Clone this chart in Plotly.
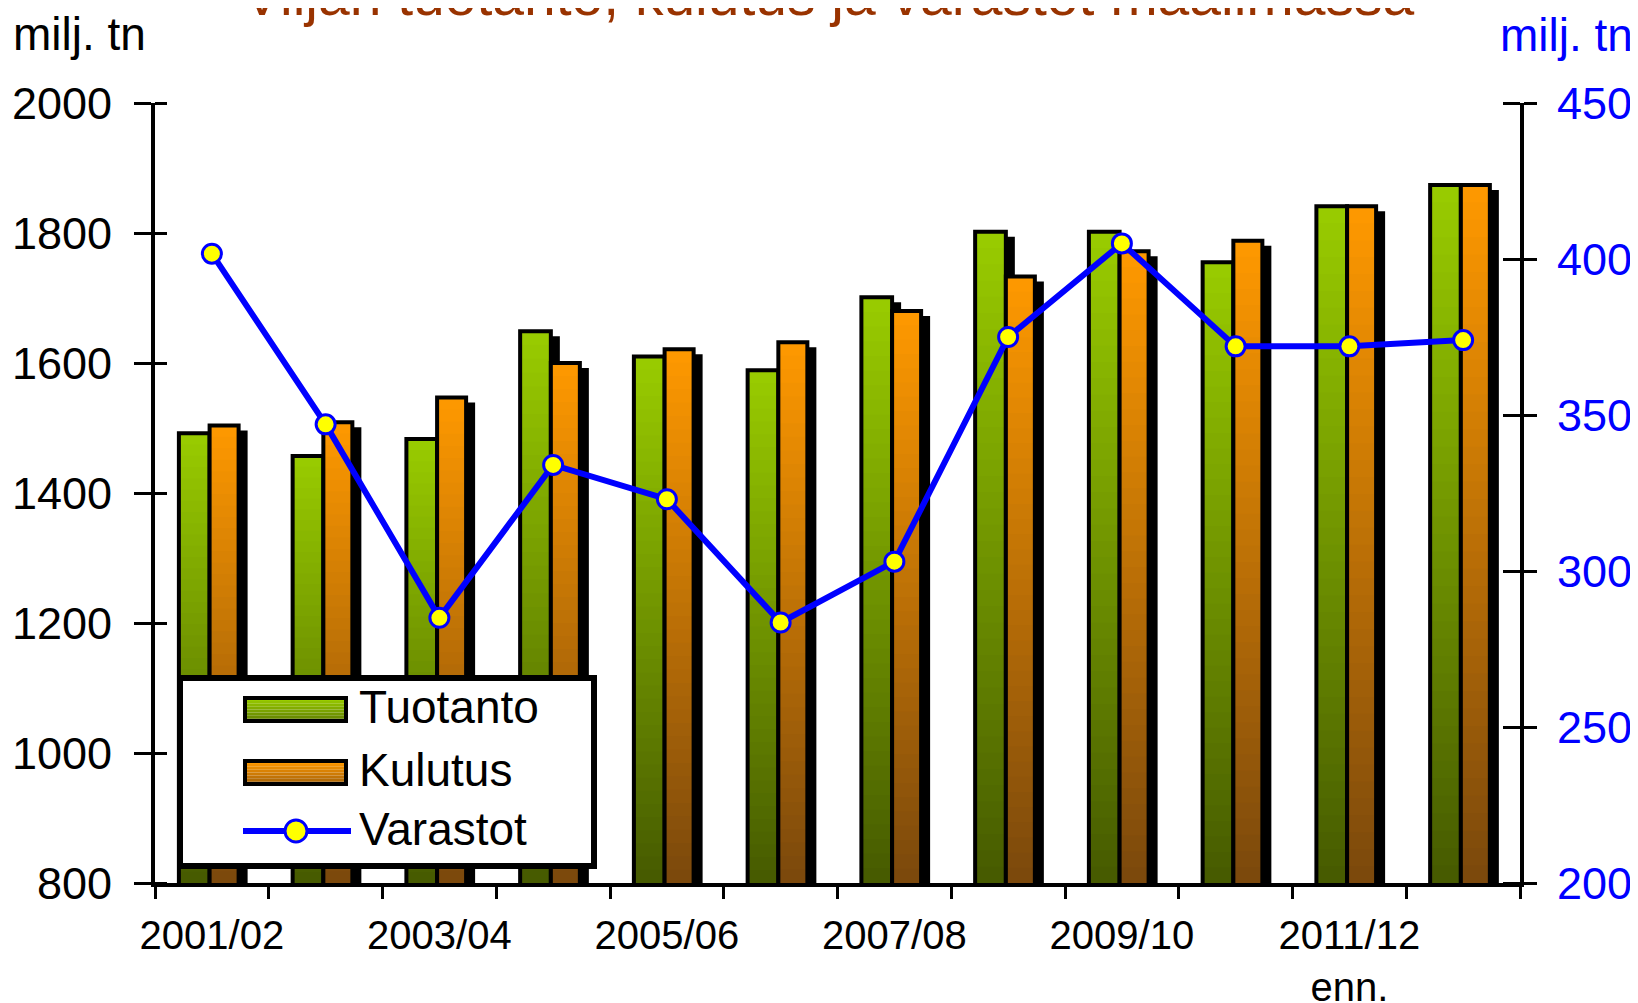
import plotly.graph_objects as go

# ---------------- data ----------------
CATEGORIES = ["2001/02", "2002/03", "2003/04", "2004/05", "2005/06", "2006/07",
              "2007/08", "2008/09", "2009/10", "2010/11", "2011/12", "2012/13"]
TICK_LABELS = ["2001/02", "2003/04", "2005/06", "2007/08", "2009/10", "2011/12<br>enn."]
TUOTANTO = [1492, 1457, 1483, 1649, 1610, 1589, 1701, 1802, 1802, 1755, 1841, 1874]
KULUTUS = [1504, 1509, 1547, 1600, 1621, 1632, 1680, 1733, 1772, 1788, 1841, 1874]
VARASTOT = [401.7, 347, 285, 334, 323, 283.5, 303, 375, 405, 372, 372, 374]

TITLE = "Viljan tuotanto, kulutus ja varastot maailmassa"
UNIT = "milj. tn"
SERIES_NAMES = ["Tuotanto", "Kulutus", "Varastot"]

# ---------------- layout geometry (page pixels) ----------------
PAGE_W, PAGE_H = 1638, 1003
BODY = 8                       # default page margin around the plot div
W, H = PAGE_W - BODY, PAGE_H - BODY
PLOT_L, PLOT_R, PLOT_T, PLOT_B = 155, 1520, 103, 883   # page coords
ML, MT = PLOT_L - BODY, PLOT_T - BODY
PW, PH = PLOT_R - PLOT_L, PLOT_B - PLOT_T
MR, MB = W - ML - PW, H - MT - PH

Y_RANGE = [800, 2000]
Y2_RANGE = [200, 450]
X_RANGE = [-0.5, len(CATEGORIES) - 0.5]

PX_PER_X = PW / (X_RANGE[1] - X_RANGE[0])
PX_PER_Y = PH / (Y_RANGE[1] - Y_RANGE[0])

FONT = "Liberation Sans, Arial, sans-serif"

GREEN_TOP, GREEN_BOT = (153, 204, 0), (70, 90, 0)
ORANGE_TOP, ORANGE_BOT = (255, 153, 0), (122, 72, 12)
N_SEG = 40
OUTLINE = 4
SHADOW_DX, SHADOW_DY = 7, 7  # px


def lerp(c1, c2, t):
    return "rgb(%d,%d,%d)" % tuple(round(a + (b - a) * t) for a, b in zip(c1, c2))


def PX(px):   # page x -> paper
    return (px - PLOT_L) / PW


def PY(py):   # page y -> paper
    return (PLOT_B - py) / PH


xs = list(range(len(CATEGORIES)))
fig = go.Figure()

series = [
    (TUOTANTO, -0.29, 0.27, GREEN_TOP, GREEN_BOT),
    (KULUTUS, -0.02, 0.255, ORANGE_TOP, ORANGE_BOT),
]

half_line_x = (OUTLINE / 2) / PX_PER_X
for vals, off, wid, ctop, cbot in series:
    # drop shadow
    fig.add_trace(go.Bar(
        x=xs, y=[v - (SHADOW_DY - OUTLINE / 2) / PX_PER_Y for v in vals],
        offset=off - half_line_x + SHADOW_DX / PX_PER_X, width=wid + 2 * half_line_x,
        marker=dict(color="black", line=dict(width=0)),
        hoverinfo="skip", showlegend=False))
    # gradient fill (segments from bottom to top, each covering up to bar top)
    for k in range(N_SEG):
        bases = [Y_RANGE[0] + (v - Y_RANGE[0]) * k / N_SEG for v in vals]
        fig.add_trace(go.Bar(
            x=xs, y=[v - b for v, b in zip(vals, bases)], base=bases,
            offset=off, width=wid,
            marker=dict(color=lerp(cbot, ctop, (k + 0.5) / N_SEG), line=dict(width=0)),
            hoverinfo="skip", showlegend=False))
    # outline
    fig.add_trace(go.Bar(
        x=xs, y=vals, offset=off, width=wid,
        marker=dict(color="rgba(0,0,0,0)", line=dict(color="black", width=OUTLINE)),
        showlegend=False, hovertemplate="%{y}<extra></extra>"))

fig.add_trace(go.Scatter(
    x=xs, y=VARASTOT, yaxis="y2", mode="lines+markers", name=SERIES_NAMES[2],
    line=dict(color="#0000FF", width=6),
    marker=dict(symbol="circle", size=19, color="#FFFF00",
                line=dict(color="#0000FF", width=3)),
    showlegend=False))

# ---------------- custom legend ----------------
shapes = []
ann = []
shapes.append(dict(type="rect", xref="paper", yref="paper",
                   x0=PX(180), x1=PX(594), y0=PY(866), y1=PY(678),
                   fillcolor="white", line=dict(color="black", width=6), layer="above"))
sw_x0, sw_x1 = 245, 346
for (ytop, ybot), ctop, cbot in [((698, 721), GREEN_TOP, GREEN_BOT),
                                 ((761, 784), ORANGE_TOP, ORANGE_BOT)]:
    ns = 8
    for i in range(ns):
        a = ytop + (ybot - ytop) * i / ns
        b = ytop + (ybot - ytop) * (i + 1) / ns
        shapes.append(dict(type="rect", xref="paper", yref="paper",
                           x0=PX(sw_x0), x1=PX(sw_x1), y0=PY(b), y1=PY(a),
                           fillcolor=lerp(ctop, cbot, 0.65 * i / (ns - 1)),
                           line=dict(width=0), layer="above"))
    shapes.append(dict(type="rect", xref="paper", yref="paper",
                       x0=PX(sw_x0), x1=PX(sw_x1), y0=PY(ybot), y1=PY(ytop),
                       line=dict(color="black", width=4), layer="above"))
shapes.append(dict(type="line", xref="paper", yref="paper",
                   x0=PX(243), x1=PX(351), y0=PY(831), y1=PY(831),
                   line=dict(color="#0000FF", width=6), layer="above"))
shapes.append(dict(type="circle", xref="paper", yref="paper",
                   x0=PX(296 - 11), x1=PX(296 + 11), y0=PY(831 + 11), y1=PY(831 - 11),
                   fillcolor="#FFFF00", line=dict(color="#0000FF", width=3), layer="above"))

for name, base in zip(SERIES_NAMES, [723, 786, 845]):
    ann.append(dict(text=name, xref="paper", yref="paper", x=PX(357), y=PY(base - 16),
                    xanchor="left", yanchor="middle", showarrow=False,
                    font=dict(family=FONT, size=46, color="black")))

# title and units
ann.append(dict(text=TITLE, xref="paper", yref="paper", x=PX(828.5), y=PY(-5),
                xanchor="center", yanchor="middle", showarrow=False,
                font=dict(family=FONT, size=57, color="#993300")))
ann.append(dict(text=UNIT, xref="paper", yref="paper", x=PX(11), y=PY(34),
                xanchor="left", yanchor="middle", showarrow=False,
                font=dict(family=FONT, size=46, color="black")))
ann.append(dict(text=UNIT, xref="paper", yref="paper", x=PX(1635), y=PY(35),
                xanchor="right", yanchor="middle", showarrow=False,
                font=dict(family=FONT, size=46, color="#0000FF")))

fig.update_layout(
    width=W, height=H,
    margin=dict(l=ML, r=MR, t=MT, b=MB, pad=0, autoexpand=False),
    paper_bgcolor="white", plot_bgcolor="white",
    barmode="overlay", showlegend=False,
    font=dict(family=FONT, color="black"),
    xaxis=dict(range=X_RANGE, tickmode="array", automargin=False,
               tickvals=xs[::2], ticktext=TICK_LABELS,
               ticks="", showgrid=False, zeroline=False,
               showline=True, linecolor="black", linewidth=4,
               tickfont=dict(family=FONT, size=40, color="black"),
               ticklabelstandoff=14,
               minor=dict(tickmode="linear", tick0=-0.5, dtick=1, ticks="outside",
                          ticklen=12, tickwidth=3, tickcolor="black", showgrid=False)),
    yaxis=dict(range=Y_RANGE, tickmode="linear", tick0=800, dtick=200, automargin=False,
               ticks="outside", ticklen=17, tickwidth=3, tickcolor="black",
               showgrid=False, zeroline=False,
               showline=True, linecolor="black", linewidth=4,
               tickfont=dict(family=FONT, size=45, color="black"),
               ticklabelstandoff=13,
               minor=dict(tickmode="linear", tick0=800, dtick=200, ticks="inside",
                          ticklen=12, tickwidth=3, tickcolor="black", showgrid=False)),
    yaxis2=dict(range=Y2_RANGE, overlaying="y", side="right", anchor="x", automargin=False,
                tickmode="linear", tick0=200, dtick=50,
                ticks="outside", ticklen=13, tickwidth=3, tickcolor="black",
                showgrid=False, zeroline=False,
                showline=True, linecolor="black", linewidth=4,
                tickfont=dict(family=FONT, size=45, color="#0000FF"),
                ticklabelstandoff=11,
                minor=dict(tickmode="linear", tick0=200, dtick=50, ticks="inside",
                           ticklen=17, tickwidth=3, tickcolor="black", showgrid=False)),
    shapes=shapes, annotations=ann,
)

fig.write_html("out.html")
